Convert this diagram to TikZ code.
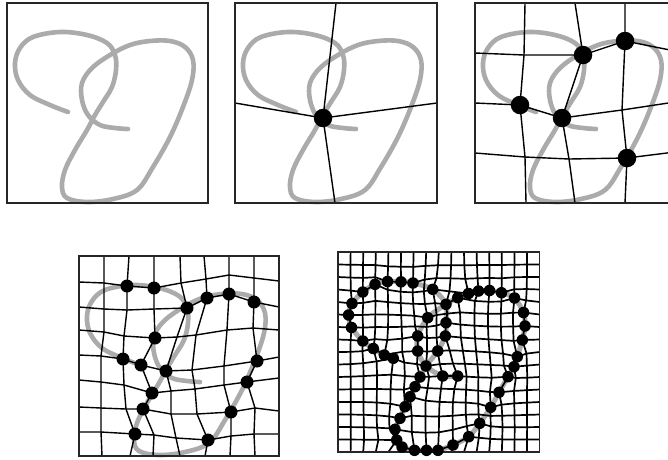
\documentclass[tikz,border=0pt]{standalone}
\tikzset{
  knot/.style={line width=4.6pt, draw=black!33, line cap=round, line join=round},
  frame/.style={line width=1.5pt, draw=black!85},
  gridl/.style={line width=1.4pt, draw=black, line join=round},
  gridf/.style={line width=1.7pt, draw=black, line join=round},
  dotbig/.style={circle, fill=black, inner sep=0pt, minimum size=18.5pt},
  dotmid/.style={circle, fill=black, inner sep=0pt, minimum size=13pt},
  dotsmall/.style={circle, fill=black, inner sep=0pt, minimum size=11.5pt},
  knotpic/.pic={\draw[knot] plot[smooth, tension=0.6] coordinates {
    (68,112) (50,105) (30,95) (18,80) (15,63) (20,48) (33,37) (60,32) (87,35)
    (107,43) (115,55) (116,70) (112,87) (103,102) (95,115) (87,130) (75,150)
    (65,170) (62,187) (67,198) (87,202) (113,199) (137,190) (153,167) (170,137)
    (183,107) (192,80) (193,60) (185,47) (170,41) (150,41) (130,45) (110,55)
    (92,68) (82,83) (82,100) (88,115) (100,125) (115,128) (128,129)};}
}
\begin{document}
\begin{tikzpicture}[x=1pt,y=-1pt]
\clip (0,0) rectangle (668,459);
\fill[white] (0,0) rectangle (668,459);

% ---------- panel 1
\pic at (0,0) {knotpic};
\draw[frame] (7,3) rectangle (208,203);

% ---------- panel 2
\pic at (228,0) {knotpic};
\coordinate (b-top) at (336,3);
\coordinate (b-left) at (235,103);
\coordinate (b-right) at (437,103);
\coordinate (b-bot) at (335,203);
\coordinate (b-c) at (323,118);
\draw[gridl] (b-top) -- (b-c) -- (b-bot);
\draw[gridl] (b-left) -- (b-c) -- (b-right);
\draw[frame] (235,3) rectangle (437,203);
\node[dotbig] (b-dot) at (b-c) {};

% ---------- panel 3
\pic at (468,0) {knotpic};
\foreach \i in {0,...,4}{\foreach \j in {0,...,4}{
  \coordinate (c-\i-\j) at ({475+50*\i},{3+50*\j});}}
\foreach \i/\j/\x/\y in {1/0/525/3, 2/0/575/3, 3/0/625/3,
  1/4/526/203, 2/4/575/203, 3/4/625/203,
  0/1/475/53, 0/2/475/103, 0/3/475/153,
  4/1/675/51, 4/2/675/102, 4/3/675/152,
  1/1/524/55, 2/1/583/55, 3/1/625/41,
  1/2/520/105, 2/2/562/118, 3/2/622/110,
  1/3/525/157, 2/3/569/159, 3/3/627/158}
  {\coordinate (c-\i-\j) at (\x,\y);}
\foreach \j in {1,2,3}{\draw[gridl] (c-0-\j) foreach \i in {1,...,4}{ -- (c-\i-\j)};}
\foreach \i in {1,2,3}{\draw[gridl] (c-\i-0) foreach \j in {1,...,4}{ -- (c-\i-\j)};}
\draw[frame] (475,3) rectangle (676,203);
\foreach \i/\j in {2/1, 3/1, 1/2, 2/2, 3/3}
  {\node[dotbig] (cd-\i-\j) at (c-\i-\j) {};}

% ---------- panel 4
\pic at (72,253) {knotpic};
\foreach \i/\x in {0/79,1/104,2/129,3/154,4/180,5/204,6/229,7/254,8/279}
  {\coordinate (d-\i-0) at (\x,256);}
\foreach \i/\x/\y in {0/79/282,1/104/283,2/127/286,3/154/288,4/181/283,5/206/279,6/229/275,7/254/278,8/279/281}
  {\coordinate (d-\i-1) at (\x,\y);}
\foreach \i/\x/\y in {0/79/307,1/104/309,2/127/310,3/154/309,4/187/308,5/207/298,6/229/294,7/254/302,8/279/307}
  {\coordinate (d-\i-2) at (\x,\y);}
\foreach \i/\x/\y in {0/79/330,1/104/332,2/124/336,3/155/338,4/177/337,5/196/335,6/227/330,7/253/328,8/279/330}
  {\coordinate (d-\i-3) at (\x,\y);}
\foreach \i/\x/\y in {0/79/355,1/101/356,2/123/359,3/141/365,4/166/371,5/192/370,6/224/366,7/257/361,8/279/357}
  {\coordinate (d-\i-4) at (\x,\y);}
\foreach \i/\x/\y in {0/79/380,1/101/382,2/124/385,3/152/393,4/171/391,5/195/389,6/224/385,7/247/382,8/279/378}
  {\coordinate (d-\i-5) at (\x,\y);}
\foreach \i/\x/\y in {0/79/407,1/101/408,2/126/409,3/143/409,4/171/414,5/197/414,6/231/412,7/255/408,8/279/411}
  {\coordinate (d-\i-6) at (\x,\y);}
\foreach \i/\x/\y in {0/79/432,1/101/432,2/135/434,3/154/435,4/176/438,5/208/440,6/231/436,7/254/434,8/279/434}
  {\coordinate (d-\i-7) at (\x,\y);}
\foreach \i/\x in {0/79,1/102,2/130,3/153,4/180,5/205,6/230,7/255,8/279}
  {\coordinate (d-\i-8) at (\x,456);}
\foreach \j in {1,...,7}{\draw[gridl] (d-0-\j) foreach \i in {1,...,8}{ -- (d-\i-\j)};}
\foreach \i in {1,...,7}{\draw[gridl] (d-\i-0) foreach \j in {1,...,8}{ -- (d-\i-\j)};}
\draw[frame] (79,256) rectangle (279,456);
\foreach \i/\j in {2/1,3/1,4/2,5/2,6/2,7/2,3/3,2/4,3/4,4/4,7/4,7/5,3/5,3/6,6/6,2/7,5/7}
  {\node[dotmid] (dd-\i-\j) at (d-\i-\j) {};}

% ---------- panel 5 : displacement field, dots fixed, smoothed
\foreach \i in {0,...,16}{\foreach \j in {0,...,16}{
  \expandafter\xdef\csname fdx\i-\j\endcsname{0}%
  \expandafter\xdef\csname fdy\i-\j\endcsname{0}}}
\foreach \n/\i/\j/\x/\y in {
  1/4/9/393.3/358.3, 2/4/8/384.3/355, 3/3/8/373.3/348.5, 4/2/7/362.8/341,
  5/1/6/351.5/327.5, 6/1/5/348.6/315, 7/1/4/352/303.5, 8/2/3/362.8/292,
  9/3/3/375/284.3, 10/4/2/387.5/281.5, 11/5/2/401/281.8, 12/6/2/413/283,
  13/8/3/432.7/289.3, 14/9/4/446/304.3, 15/9/6/446/322.7, 16/9/7/445.3/336,
  17/8/8/437.7/351, 18/7/9/426/366, 19/6/10/420/377, 20/6/11/415/386.7,
  21/6/12/410/396.7, 22/5/12/405/406.7, 23/5/13/400/418.3, 24/5/14/395/429.3,
  25/4/15/396.7/440, 26/5/15/402/447, 27/6/15/414.5/450.3, 28/7/15/426.5/450.3,
  29/8/15/438/450.3, 30/9/15/453/445, 31/10/15/468.7/436.7, 32/11/14/479.7/423.3,
  33/12/12/490.7/407.3, 34/13/11/499/392.3, 35/13/10/508/376.7, 36/14/9/514/366.7,
  37/14/8/517.3/356.7, 38/15/7/522.3/340, 39/15/6/525/326, 40/15/5/523.5/312.5,
  41/14/4/514.5/298, 42/13/3/501.5/292.7, 43/12/3/489.5/290.5, 44/11/3/478.5/291,
  45/10/3/468.5/293.5, 46/10/4/457.7/297.7, 47/7/5/427.7/317.7, 48/6/7/417.7/336,
  49/6/8/417.7/351, 50/8/10/442.7/376, 51/9/10/457.7/376}
  {\pgfmathsetmacro\tdx{\x-338-12.6*\i}%
   \pgfmathsetmacro\tdy{\y-252-12.5*\j}%
   \expandafter\xdef\csname fdx\i-\j\endcsname{\tdx}%
   \expandafter\xdef\csname fdy\i-\j\endcsname{\tdy}%
   \expandafter\gdef\csname ffix\i-\j\endcsname{1}}
\foreach \it in {1,...,5}{\foreach \i in {1,...,15}{\foreach \j in {1,...,15}{
  \expandafter\ifx\csname ffix\i-\j\endcsname\relax
    \pgfmathtruncatemacro\ip{\i+1}\pgfmathtruncatemacro\im{\i-1}%
    \pgfmathtruncatemacro\jp{\j+1}\pgfmathtruncatemacro\jm{\j-1}%
    \edef\sx{(\csname fdx\ip-\j\endcsname)+(\csname fdx\im-\j\endcsname)+(\csname fdx\i-\jp\endcsname)+(\csname fdx\i-\jm\endcsname)}%
    \edef\sy{(\csname fdy\ip-\j\endcsname)+(\csname fdy\im-\j\endcsname)+(\csname fdy\i-\jp\endcsname)+(\csname fdy\i-\jm\endcsname)}%
    \pgfmathsetmacro\nx{(\sx)/4}\pgfmathsetmacro\ny{(\sy)/4}%
    \expandafter\xdef\csname fdx\i-\j\endcsname{\nx}%
    \expandafter\xdef\csname fdy\i-\j\endcsname{\ny}%
  \fi}}}
\foreach \i in {0,...,16}{\foreach \j in {0,...,16}{
  \edef\ddx{\csname fdx\i-\j\endcsname}\edef\ddy{\csname fdy\i-\j\endcsname}%
  \coordinate (f-\i-\j) at ({338+12.6*\i+\ddx},{252+12.5*\j+\ddy});}}
\draw[knot, line width=5pt] plot[smooth, tension=0.5] coordinates {
  (f-4-9) (f-4-8) (f-3-8) (f-2-7) (f-1-6) (f-1-5) (f-1-4) (f-2-3) (f-3-3)
  (f-4-2) (f-5-2) (f-6-2) (f-8-3) (f-9-4) (f-9-6) (f-9-7) (f-8-8) (f-7-9)
  (f-6-10) (f-6-11) (f-6-12) (f-5-12) (f-5-13) (f-5-14) (f-4-15) (f-5-15)
  (f-6-15) (f-7-15) (f-8-15) (f-9-15) (f-10-15) (f-11-14) (f-12-12) (f-13-11)
  (f-13-10) (f-14-9) (f-14-8) (f-15-7) (f-15-6) (f-15-5) (f-14-4) (f-13-3)
  (f-12-3) (f-11-3) (f-10-3) (f-10-4) (f-9-4) (f-7-5) (f-6-7) (f-6-8) (f-7-9)
  (f-8-10) (f-9-10)};
\foreach \j in {1,...,15}{\draw[gridf] (f-0-\j) foreach \i in {1,...,16}{ -- (f-\i-\j)};}
\foreach \i in {1,...,15}{\draw[gridf] (f-\i-0) foreach \j in {1,...,16}{ -- (f-\i-\j)};}
\draw[frame] (338,252) rectangle (539.6,452);
\foreach \i/\j in {4/9,4/8,3/8,2/7,1/6,1/5,1/4,2/3,3/3,4/2,5/2,6/2,8/3,9/4,9/6,9/7,
  8/8,7/9,6/10,6/11,6/12,5/12,5/13,5/14,4/15,5/15,6/15,7/15,8/15,9/15,10/15,11/14,
  12/12,13/11,13/10,14/9,14/8,15/7,15/6,15/5,14/4,13/3,12/3,11/3,10/3,10/4,7/5,
  6/7,6/8,8/10,9/10}
  {\node[dotsmall] (fd-\i-\j) at (f-\i-\j) {};}
\end{tikzpicture}
\end{document}
